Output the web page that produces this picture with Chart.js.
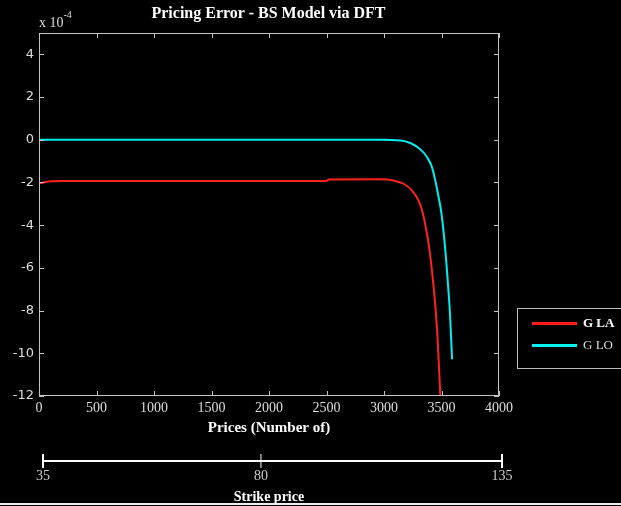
<!DOCTYPE html>
<html>
<head>
<meta charset="utf-8">
<script src="https://cdn.jsdelivr.net/npm/chart.js@4"></script>
<style>
  html, body { margin: 0; padding: 0; background: #000; }
  #wrap { position: relative; width: 621px; height: 506px; overflow: hidden; background: #000; }
  #chart { position: absolute; left: 0; top: 0; }
  .txt { position: absolute; font-family: "Liberation Serif", serif; white-space: nowrap; }
  #title { left: 0; width: 537px; top: 4px; text-align: center; color: #fff; font-size: 16px; font-weight: bold; }
  #expo { left: 39px; top: 12px; color: #ddd; font-size: 14px; }
  #expo sup { font-size: 10px; position: relative; top: -3px; }
  #legend { position: absolute; left: 517px; top: 308px; width: 120px; height: 61px; border: 1px solid #bbb; box-sizing: border-box; }
  .row { position: absolute; left: 14px; width: 100px; height: 16px; white-space: nowrap; }
  .row i { position: absolute; left: 0; top: 7px; width: 45px; height: 3px; }
  .row span { position: absolute; left: 51px; top: 0; font-family: "Liberation Serif", serif; font-size: 13px; color: #ddd; white-space: nowrap; }
  #bottomline { position: absolute; left: 0; top: 503px; width: 621px; height: 2px; background: #eee; }
</style>
</head>
<body>
<div id="wrap">
  <canvas id="chart" width="621" height="506"></canvas>
  <div id="title" class="txt">Pricing Error - BS Model via DFT</div>
  <div id="expo" class="txt">x 10<sup>-4</sup></div>
  <div id="legend">
    <div class="row" style="top:6px"><i style="background:#ff1a1a"></i><span style="font-weight:bold;color:#fff">G LA</span></div>
    <div class="row" style="top:28px"><i style="background:#00f4f4"></i><span>G LO</span></div>
  </div>
  <div id="bottomline"></div>
</div>
<script>
// G LA (red) - pricing error, units of 1e-4
const laX = [0, 40, 100, 200, 1000, 2000, 2500, 2520, 2968, 3084, 3171, 3244, 3301, 3339, 3368, 3392, 3426, 3452, 3470, 3490, 3500];
const laY = [-2.04, -2.0, -1.94, -1.93, -1.93, -1.93, -1.93, -1.86, -1.85, -1.91, -2.06, -2.38, -2.85, -3.47, -4.25, -5.0, -6.6, -8.16, -9.73, -12.0, -13.0];

// G LO (cyan)
const loX = [0, 1000, 2000, 2968, 3142, 3229, 3316, 3374, 3417, 3446, 3475, 3500, 3531, 3554, 3574, 3592];
const loY = [0, 0, 0, 0, -0.03, -0.15, -0.45, -0.81, -1.28, -1.91, -2.69, -3.47, -5.04, -6.6, -8.16, -10.28];

const xTicks = [0, 500, 1000, 1500, 2000, 2500, 3000, 3500, 4000];
const yTicks = [-12, -10, -8, -6, -4, -2, 0, 2, 4];

// strike price axis: labels and where they sit along the price index
const strikeLabels = ['35', '80', '135'];
const strikeAt = [35, 1930, 4026];

const toPts = (xs, ys) => xs.map((x, i) => ({ x: x, y: ys[i] }));

// MATLAB style box with ticks pointing inward, plus the strike bar
const frame = {
  id: 'frame',
  afterDraw(chart) {
    const { ctx, chartArea: a, scales } = chart;
    ctx.save();
    ctx.strokeStyle = '#c4c4c4';
    ctx.lineWidth = 1;
    ctx.strokeRect(Math.round(a.left) + 0.5, Math.round(a.top) + 0.5, Math.round(a.width) - 1, Math.round(a.height) - 1);
    ctx.beginPath();
    scales.x.ticks.forEach(t => {
      const px = Math.round(scales.x.getPixelForValue(t.value)) + 0.5;
      ctx.moveTo(px, a.bottom); ctx.lineTo(px, a.bottom - 5);
      ctx.moveTo(px, a.top); ctx.lineTo(px, a.top + 5);
    });
    scales.y.ticks.forEach(t => {
      const py = Math.round(scales.y.getPixelForValue(t.value)) + 0.5;
      ctx.moveTo(a.left, py); ctx.lineTo(a.left + 5, py);
      ctx.moveTo(a.right, py); ctx.lineTo(a.right - 5, py);
    });
    ctx.stroke();

    const s = scales.xs;
    const yb = s.top + 20;
    const x0 = s.getPixelForValue(strikeAt[0]);
    const x1 = s.getPixelForValue(strikeAt[strikeAt.length - 1]);
    ctx.strokeStyle = '#fff';
    ctx.lineWidth = 2;
    ctx.beginPath();
    ctx.moveTo(x0, yb); ctx.lineTo(x1, yb);
    ctx.stroke();
    strikeAt.forEach((v, i) => {
      const px = s.getPixelForValue(v);
      ctx.lineWidth = (i === 1) ? 1 : 2;
      ctx.beginPath();
      ctx.moveTo(px, yb - 7); ctx.lineTo(px, yb + 7);
      ctx.stroke();
    });
    ctx.restore();
  }
};

new Chart(document.getElementById('chart'), {
  type: 'line',
  data: {
    datasets: [
      { label: 'G LA', data: toPts(laX, laY), borderColor: '#ff2222', borderWidth: 2, pointRadius: 0, cubicInterpolationMode: 'monotone' },
      { label: 'G LO', data: toPts(loX, loY), borderColor: '#00eeee', borderWidth: 2, pointRadius: 0, cubicInterpolationMode: 'monotone' }
    ]
  },
  options: {
    responsive: false,
    animation: false,
    layout: { padding: { top: 33, right: 122, left: 0, bottom: 0 } },
    plugins: { legend: { display: false }, tooltip: { enabled: false } },
    scales: {
      x: {
        type: 'linear', position: 'bottom', weight: 0, min: 0, max: 4000,
        afterBuildTicks: s => { s.ticks = xTicks.map(v => ({ value: v })); },
        ticks: { color: '#ddd', font: { family: 'Liberation Serif', size: 14 }, padding: 4, maxRotation: 0, autoSkip: false,
                 callback: v => String(v) },
        title: { display: true, text: 'Prices (Number of)', color: '#fff', font: { family: 'Liberation Serif', size: 15, weight: 'bold' }, padding: { top: 0, bottom: 4 } },
        grid: { display: false, drawTicks: false }, border: { display: false },
        afterFit: s => { s.height = 45; }
      },
      xs: {
        type: 'linear', position: 'bottom', weight: 1, min: 0, max: 4000,
        afterBuildTicks: s => { s.ticks = strikeAt.map(v => ({ value: v })); },
        ticks: { color: '#ccc', font: { family: 'Liberation Serif', size: 14 }, padding: 27, maxRotation: 0, autoSkip: false,
                 callback: (v, i) => strikeLabels[i] },
        title: { display: true, text: 'Strike price', color: '#fff', font: { family: 'Liberation Serif', size: 14, weight: 'bold' }, padding: { top: 0, bottom: 0 } },
        grid: { display: false, drawTicks: false }, border: { display: false },
        afterFit: s => { s.height = 65; }
      },
      y: {
        min: -12, max: 5,
        afterBuildTicks: s => { s.ticks = yTicks.map(v => ({ value: v })); },
        ticks: { color: '#ddd', font: { family: 'DejaVu Sans', size: 13 }, padding: 5 },
        grid: { display: false, drawTicks: false }, border: { display: false },
        afterFit: s => { s.width = 39; }
      }
    }
  },
  plugins: [frame]
});
</script>
</body>
</html>
